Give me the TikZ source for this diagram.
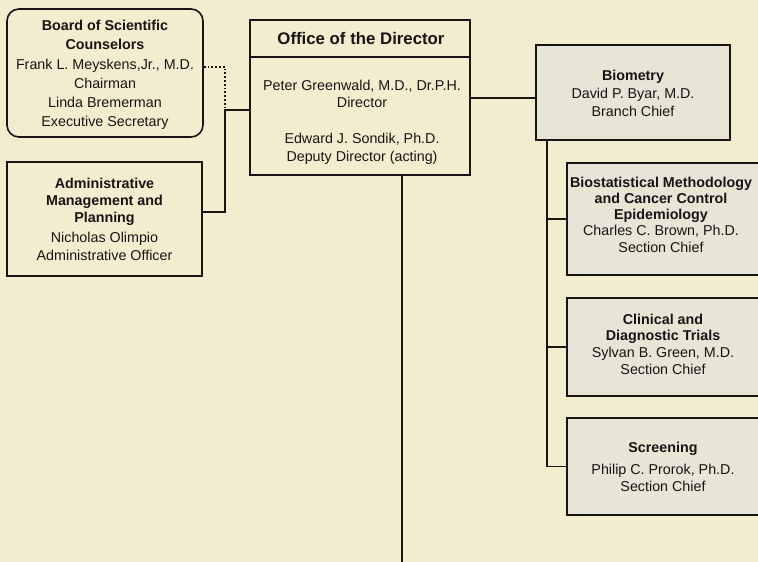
\documentclass[tikz,border=0pt]{standalone}
\usepackage{fontspec}
\setmainfont{Liberation Sans}
\definecolor{bg}{RGB}{243,237,208}
\definecolor{gfill}{RGB}{231,229,214}
\definecolor{ink}{RGB}{25,20,20}
\begin{document}
\begin{tikzpicture}[x=1pt,y=-1pt,
  line/.style={draw=ink,line width=1.4pt},
  boxL/.style={draw=ink,line width=1.6pt,inner sep=0pt},
  boxG/.style={draw=ink,line width=1.6pt,fill=gfill,inner sep=0pt},
  txt/.style={text=ink,align=center,inner sep=0pt,font=\fontsize{14.3}{18}\selectfont}]
\fill[bg] (0,0) rectangle (758,562);
\useasboundingbox (0,0) rectangle (758,562);
\begin{scope}
\clip (0,0) rectangle (758,562);
% boxes
\node[boxL,rounded corners=12pt,minimum width=196pt,minimum height=128pt] (board) at (105,73) {};
\node[boxL,minimum width=195pt,minimum height=114pt] (adm) at (104.5,219) {};
\node[boxL,minimum width=220pt,minimum height=155pt] (dir) at (360,97.5) {};
\node[boxG,minimum width=194pt,minimum height=95pt] (bio) at (633,92.5) {};
\node[boxG,minimum width=213pt,minimum height=112pt] (bst) at (673.5,219) {};
\node[boxG,minimum width=213pt,minimum height=98pt] (cli) at (673.5,347) {};
\node[boxG,minimum width=213pt,minimum height=97pt] (scr) at (673.5,466.5) {};
% divider in director box
\coordinate (dv) at (0,57);
\draw[line] (dir.west |- dv) -- (dir.east |- dv);
% texts
\node[txt,font=\fontsize{14.3}{19.2}\selectfont] (boardt) at (105,75) {{\bfseries Board of Scientific}\\{\bfseries Counselors}\\Frank L. Meyskens,Jr., M.D.\\Chairman\\Linda Bremerman\\Executive Secretary};
\node[txt,font=\fontsize{14.3}{17}\selectfont] (admt) at (104.5,219) {{\bfseries Administrative}\\{\bfseries Management and}\\{\bfseries Planning}\\[3pt]Nicholas Olimpio\\[1pt]Administrative Officer};
\node[txt,font=\fontsize{16.8}{17}\selectfont\bfseries] (dirh) at (361,38) {Office of the Director};
\node[txt,font=\fontsize{14.3}{17}\selectfont] (dirp) at (362,93.5) {Peter Greenwald, M.D., Dr.P.H.\\Director};
\node[txt] (dire) at (362,149) {Edward J. Sondik, Ph.D.\\Deputy Director (acting)};
\node[txt] (biot) at (633,93) {{\bfseries Biometry}\\David P. Byar, M.D.\\Branch Chief};
\node[txt,font=\fontsize{14.3}{16.3}\selectfont] (bstt) at (661,214.5) {{\bfseries Biostatistical Methodology}\\{\bfseries and Cancer Control}\\{\bfseries Epidemiology}\\Charles C. Brown, Ph.D.\\Section Chief};
\node[txt,font=\fontsize{14.3}{16.7}\selectfont] (clit) at (663,344) {{\bfseries Clinical and}\\{\bfseries Diagnostic Trials}\\Sylvan B. Green, M.D.\\Section Chief};
\node[txt,font=\fontsize{14.3}{17}\selectfont] (scrt) at (663,466.5) {{\bfseries Screening}\\[5pt]Philip C. Prorok, Ph.D.\\Section Chief};
% connectors
\coordinate (j1) at (225,110);
\coordinate (ya) at (0,212);
\coordinate (yb) at (0,67);
\coordinate (yc) at (0,98);
\coordinate (spine) at (547,0);
\draw[line] (dir.west |- j1) -- (j1) |- (adm.east |- ya);
\draw[draw=ink,line width=1.8pt,dotted] (board.east |- yb) -| (j1);
\draw[line] (dir.east |- yc) -- (bio.west |- yc);
\draw[line] (spine |- bio.south) |- (scr.west);
\draw[line] (spine |- bst.west) -- (bst.west);
\draw[line] (spine |- cli.west) -- (cli.west);
\draw[line] (dir.south -| 402,0) -- (402,562);
\end{scope}
\end{tikzpicture}
\end{document}
